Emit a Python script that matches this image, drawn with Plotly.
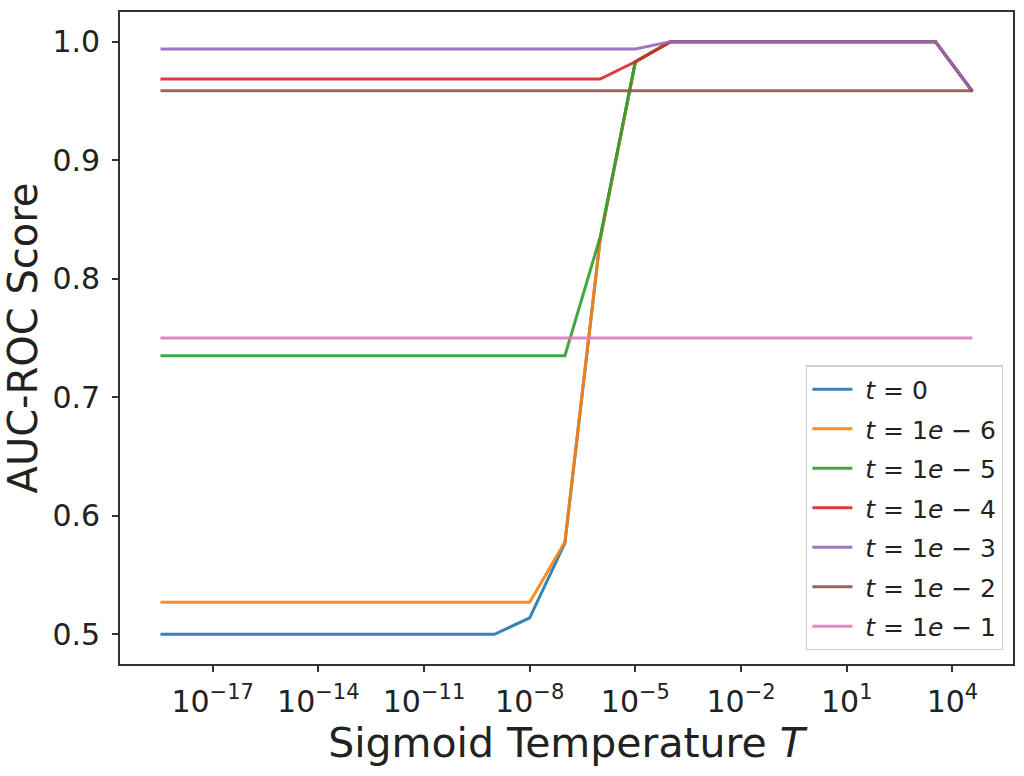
import plotly.graph_objects as go

# Sigmoid temperature T (x values, log scale)
temperature = [3.3e-19, 1e-9, 1e-8, 1e-7, 1e-6, 1e-5, 1e-4, 3.3e3, 3.7e4]

labels = ["t = 0", "t = 1e − 6", "t = 1e − 5", "t = 1e − 4", "t = 1e − 3", "t = 1e − 2", "t = 1e − 1"]
auc_t0    = [0.500, 0.500, 0.514, 0.577, 0.833, 0.983, 1.000, 1.000, 0.958]
auc_t1e6  = [0.527, 0.527, 0.527, 0.578, 0.833, 0.983, 1.000, 1.000, 0.958]
auc_t1e5  = [0.735, 0.735, 0.735, 0.735, 0.835, 0.983, 1.000, 1.000, 0.958]
auc_t1e4  = [0.9685, 0.9685, 0.9685, 0.9685, 0.9685, 0.983, 1.000, 1.000, 0.958]
auc_t1e3  = [0.9938, 0.9938, 0.9938, 0.9938, 0.9938, 0.9938, 1.000, 1.000, 0.958]
auc_t1e2  = [0.9585, 0.9585, 0.9585, 0.9585, 0.9585, 0.9585, 0.9585, 0.959, 0.9585]
auc_t1e1  = [0.750, 0.750, 0.750, 0.750, 0.750, 0.750, 0.750, 0.750, 0.750]

series = [auc_t0, auc_t1e6, auc_t1e5, auc_t1e4, auc_t1e3, auc_t1e2, auc_t1e1]
colors = ["#1f77b4", "#ff7f0e", "#2ca02c", "#d62728", "#9467bd", "#8c564b", "#e377c2"]

xtick_exp = [-17, -14, -11, -8, -5, -2, 1, 4]
ytick_vals = [0.5, 0.6, 0.7, 0.8, 0.9, 1.0]


def legend_html(lbl):
    name = lbl.replace("t", "<i>t</i>", 1)
    name = name.replace("1e", "1<i>e</i>")
    return "&nbsp;" + name


fig = go.Figure()
for i, (ys, lbl, c) in enumerate(zip(series, labels, colors)):
    fig.add_trace(go.Scatter(
        x=temperature, y=ys, mode="lines", name=legend_html(lbl),
        line=dict(color=c, width=3), opacity=0.9,
        legendgroup=f"g{i}",
    ))

axis_common = dict(
    showline=True, linecolor="#333333", linewidth=1.6, mirror=True,
    ticks="outside", ticklen=6, tickwidth=1.5, tickcolor="#333333",
    showgrid=False, zeroline=False,
    tickfont=dict(family="DejaVu Sans", size=30, color="#222222"),
)

fig.update_layout(
    width=1024, height=776,
    margin=dict(l=120, r=9, t=12, b=112),
    paper_bgcolor="white", plot_bgcolor="white",
    font=dict(family="DejaVu Sans", color="#222222"),
    xaxis=dict(
        type="log", range=[-19.63, 5.72],
        tickvals=[10.0 ** e for e in xtick_exp],
        ticktext=[f"10<sup>{'−' if e < 0 else ''}{abs(e)}</sup>" for e in xtick_exp],
        ticklabelstandoff=4,
        title=dict(text="Sigmoid Temperature <i>T</i>", font=dict(size=41, family="DejaVu Sans"), standoff=10),
        **axis_common,
    ),
    yaxis=dict(
        range=[0.475, 1.025],
        tickvals=ytick_vals,
        ticktext=[f"{v:.1f}" for v in ytick_vals],
        ticklabelstandoff=6,
        title=dict(text="AUC-ROC Score", font=dict(size=40, family="DejaVu Sans"), standoff=8),
        **axis_common,
    ),
    legend=dict(
        x=0.989, y=0.021, xanchor="right", yanchor="bottom",
        bgcolor="rgba(255,255,255,0.85)", bordercolor="#d0d0d0", borderwidth=1.2,
        font=dict(family="DejaVu Sans", size=25, color="#222222"),
        tracegroupgap=4, itemwidth=40,
    ),
    showlegend=True,
)

fig.write_html(
    "out.html",
    config={"displayModeBar": False},
    post_script="document.body.style.margin='0';document.body.style.overflow='hidden';",
)
